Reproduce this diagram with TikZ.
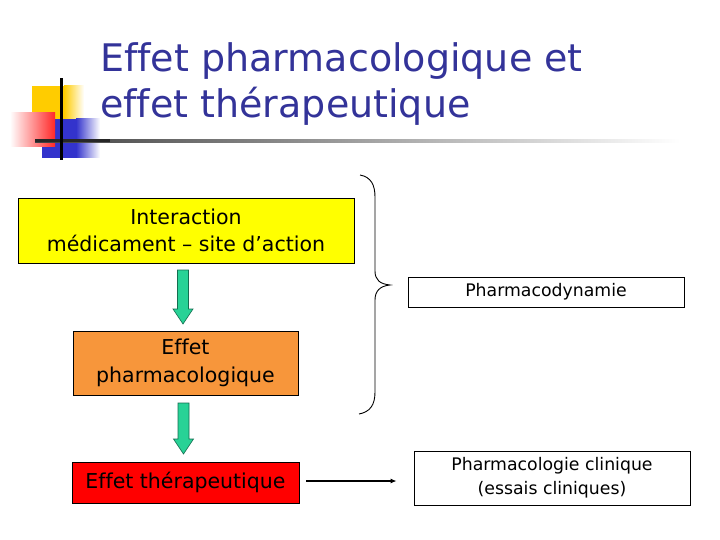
\documentclass[tikz,border=0pt]{standalone}
\usepackage{fontspec}
\setmainfont[Ligatures=CommonOff]{DejaVu Sans}
\usetikzlibrary{arrows.meta,calc}
\definecolor{titleblue}{RGB}{51,51,153}
\definecolor{boxyellow}{RGB}{255,255,0}
\definecolor{boxorange}{RGB}{247,150,59}
\definecolor{boxred}{RGB}{255,0,0}
\definecolor{arrowgreen}{RGB}{40,210,150}
\definecolor{arrowedge}{RGB}{20,110,80}
\definecolor{decoyellow}{RGB}{255,204,0}
\definecolor{decoblue}{RGB}{51,51,204}
\definecolor{decored}{RGB}{255,40,40}
\tikzset{
  box/.style={draw=black, line width=0.8pt, align=center, inner sep=0pt},
  bigtext/.style={font=\fontsize{20.5}{27.5}\selectfont},
  smalltext/.style={font=\fontsize{17.3}{24}\selectfont},
  titletext/.style={anchor=base west, inner sep=0pt, text=titleblue, font=\fontsize{38}{46}\selectfont},
  blockarrow/.style={fill=arrowgreen, draw=arrowedge, line width=0.6pt},
}
\begin{document}
\begin{tikzpicture}[x=1pt,y=-1pt]
\useasboundingbox (0,0) rectangle (720,540);
\fill[white] (0,0) rectangle (720,540);
% decoration
\fill[decoyellow] (32,86) rectangle (64,119);
\shade[left color=decoyellow, right color=white] (64,86) rectangle (84,119);
\fill[decoblue] (42,119) rectangle (76,158);
\shade[left color=decoblue, right color=white] (76,119) rectangle (100,158);
\shade[left color=white, right color=decored] (10,113) rectangle (55,147);
\shade[left color=black!75, right color=white] (35,139.5) rectangle (680,142.5);
\fill[black!85] (35,139.5) rectangle (110,142.5);
\fill[black] (59.5,78) rectangle (62.5,160);
% title
\node[titletext] (t1) at (100,72) {Effet pharmacologique et};
\node[titletext] (t2) at (100,118) {effet thérapeutique};
% boxes
\node[box, bigtext, fill=boxyellow, minimum width=336, minimum height=65] (inter) at (186,230.5) {Interaction\\médicament – site d’action};
\node[box, bigtext, fill=boxorange, minimum width=225, minimum height=64] (pharmaco) at (185.5,363) {Effet\\pharmacologique};
\node[box, bigtext, fill=boxred, minimum width=227, minimum height=41] (thera) at (185.5,482.5) {Effet thérapeutique};
\node[box, smalltext, minimum width=276, minimum height=30] (dyn) at (546,292) {Pharmacodynamie};
\node[box, smalltext, minimum width=276, minimum height=54] (clin) at (552,478) {Pharmacologie clinique\\(essais cliniques)};
% green block arrows
\draw[blockarrow] (177.5,270) -- (188.5,270) -- (188.5,309) -- (193,309) -- (183,324) -- (173,309) -- (177.5,309) -- cycle;
\draw[blockarrow] (178,403) -- (189,403) -- (189,439) -- (193.5,439) -- (183.5,454) -- (173.5,439) -- (178,439) -- cycle;
% black arrow
\coordinate (aend) at ($(clin.west)+(-17,3)$);
\draw[line width=1.3pt, -{Latex[length=6pt,width=5pt]}] ($(thera.east)+(7,-1.5)$) -- (aend);
% brace
\draw[line width=0.9pt] (360,175) .. controls (371,177) and (375,185) .. (375,197)
  -- (375,271) .. controls (375,280) and (380,284) .. (390,285)
  .. controls (380,286) and (375,291) .. (375,300)
  -- (375,392) .. controls (375,405) and (370,412) .. (359,414);
\end{tikzpicture}
\end{document}
